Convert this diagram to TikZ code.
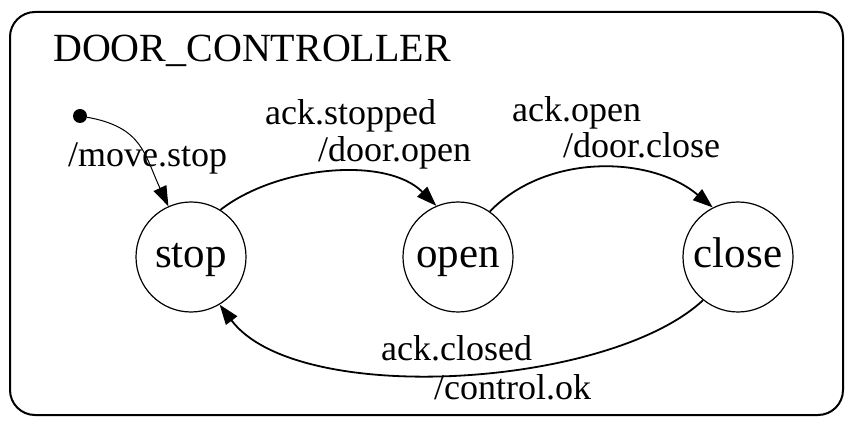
\documentclass[tikz,border=0pt]{standalone}
\usepackage{fontspec}
\setmainfont{Liberation Serif}
\usetikzlibrary{arrows.meta}

\begin{document}
\begin{tikzpicture}[x=1pt, y=1pt,
  st/.style={draw, circle, line width=1.2pt, minimum size=110pt, inner sep=0pt,
    text height=31pt, text depth=9pt, font=\fontsize{43}{46}\selectfont},
  trans/.style={line width=1.8pt, -{Triangle[length=20pt,width=14pt]}},
  lbl/.style={anchor=base west, inner sep=0pt, font=\fontsize{36}{40}\selectfont}]

  \useasboundingbox (0,0) rectangle (850,423);
  \draw [line width=2pt, rounded corners=25pt] (10,411) rectangle (843,8);
  \node [anchor=base west, inner sep=0pt, font=\fontsize{40}{44}\selectfont] (title) at (53,361) {DOOR\_CONTROLLER};

  \node [circle, fill, inner sep=0pt, minimum size=14pt] (init) at (80,307) {};
  \node [st] (stop) at (191,166) {stop};
  \node [st] (open) at (458,166) {open};
  \node [st] (close) at (738,166) {close};

  \node [lbl] (l0) at (68,256) {/move.stop};
  \node [lbl] (l1a) at (265,298) {ack.stopped};
  \node [lbl] (l1b) at (318,261) {/door.open};
  \node [lbl] (l2a) at (512,301) {ack.open};
  \node [lbl] (l2b) at (563,265) {/door.close};
  \node [lbl] (l3a) at (381,63) {ack.closed};
  \node [lbl] (l3b) at (434,24) {/control.ok};

  \draw [line width=1pt, -{Triangle[length=20pt,width=14pt]}] (init) to[out=-10, in=115, looseness=1.2] (stop.114);
  \draw [trans] (stop.58) to[out=38, in=135, looseness=0.84] (open.113);
  \draw [trans] (open.55) to[out=46, in=140, looseness=0.93] (close.117);
  \draw [trans] (close.231) to[out=223, in=307, looseness=0.68] (stop.301);

\end{tikzpicture}
\end{document}
